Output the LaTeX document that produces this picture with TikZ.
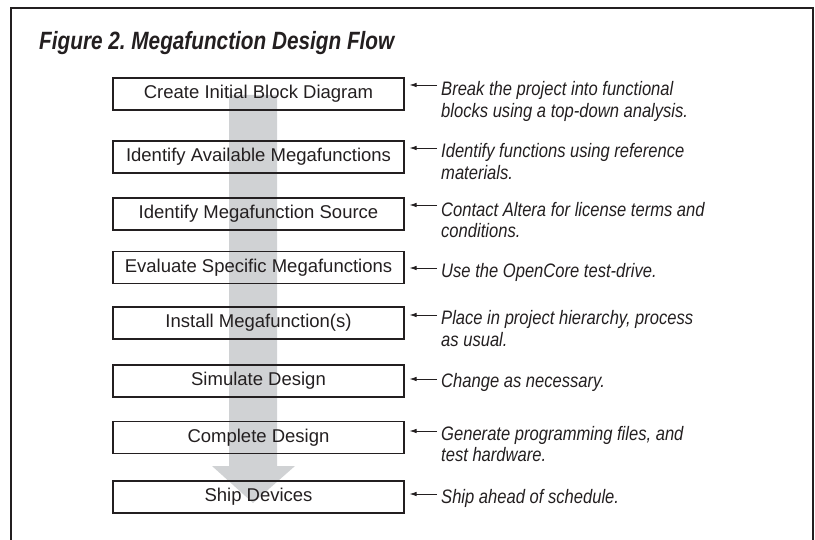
\documentclass[tikz,border=0pt]{standalone}
\usepackage{fontspec}
\setmainfont{Liberation Sans}
\newfontfamily\notefont[FakeStretch=0.85]{Liberation Sans}
\newfontfamily\titlefont[FakeStretch=0.83]{Liberation Sans}
\usetikzlibrary{arrows.meta}
\definecolor{ink}{RGB}{35,31,32}
\definecolor{flowgray}{RGB}{208,210,212}
\begin{document}
\begin{tikzpicture}[x=1pt,y=-1pt,
  stepbox/.style={draw=ink,line width=1.1pt,minimum width=291pt,minimum height=32pt,
    inner sep=0pt,font=\fontsize{18.5}{22}\selectfont,text=ink},
  note/.style={anchor=base west,inner sep=0pt,text=ink,
    font=\notefont\itshape\fontsize{19.5}{21.5}\selectfont},
  pointer/.style={draw=ink,line width=0.8pt,-{Latex[length=7pt,width=4.5pt]},shorten >=5pt}]
\useasboundingbox (0,0) rectangle (815,540);
% frame (open at the bottom)
\draw[ink,line width=1.1pt] (11,540) -- (11,8) -- (813,8) -- (813,540);
% title
\node[anchor=base west,inner sep=0pt,text=ink,font=\titlefont\bfseries\itshape\fontsize{25}{28}\selectfont]
  (title) at (39,50) {Figure 2.\ Megafunction Design Flow};
% big gray flow arrow (behind boxes)
\fill[flowgray] (229,95) -- (277,95) -- (277,466) -- (295,466) -- (253,503) -- (212,466) -- (229,466) -- cycle;
% boxes
\node[stepbox] (b1) at (258.5,94)   {Create Initial Block Diagram};
\node[stepbox] (b2) at (258.5,157)  {Identify Available Megafunctions};
\node[stepbox] (b3) at (258.5,214)  {Identify Megafunction Source};
\node[stepbox] (b4) at (258.5,267.5){Evaluate Specific Megafunctions};
\node[stepbox] (b5) at (258.5,323)  {Install Megafunction(s)};
\node[stepbox] (b6) at (258.5,381)  {Simulate Design};
\node[stepbox] (b7) at (258.5,437.5){Complete Design};
\node[stepbox] (b8) at (258.5,497)  {Ship Devices};
% notes
\node[note] (n1) at (441,96)    {\begin{tabular}[t]{@{}l@{}}Break the project into functional\\blocks using a top-down analysis.\end{tabular}};
\node[note] (n2) at (441,158)   {\begin{tabular}[t]{@{}l@{}}Identify functions using reference\\materials.\end{tabular}};
\node[note] (n3) at (441,216.5) {\begin{tabular}[t]{@{}l@{}}Contact Altera for license terms and\\conditions.\end{tabular}};
\node[note] (n4) at (441,277.5) {Use the OpenCore test-drive.};
\node[note] (n5) at (441,325)   {\begin{tabular}[t]{@{}l@{}}Place in project hierarchy, process\\as usual.\end{tabular}};
\node[note] (n6) at (441,388)   {Change as necessary.};
\node[note] (n7) at (441,440)   {\begin{tabular}[t]{@{}l@{}}Generate programming files, and\\test hardware.\end{tabular}};
\node[note] (n8) at (441,503)   {Ship ahead of schedule.};
% pointer starts
\coordinate (a1) at (437,85);
\coordinate (a2) at (437,148);
\coordinate (a3) at (437,205);
\coordinate (a4) at (437,268);
\coordinate (a5) at (437,315);
\coordinate (a6) at (437,379);
\coordinate (a7) at (437,431);
\coordinate (a8) at (437,494);
\foreach \i in {1,...,8} {\draw[pointer] (a\i) -- (a\i -| b\i.east);}
\end{tikzpicture}
\end{document}
